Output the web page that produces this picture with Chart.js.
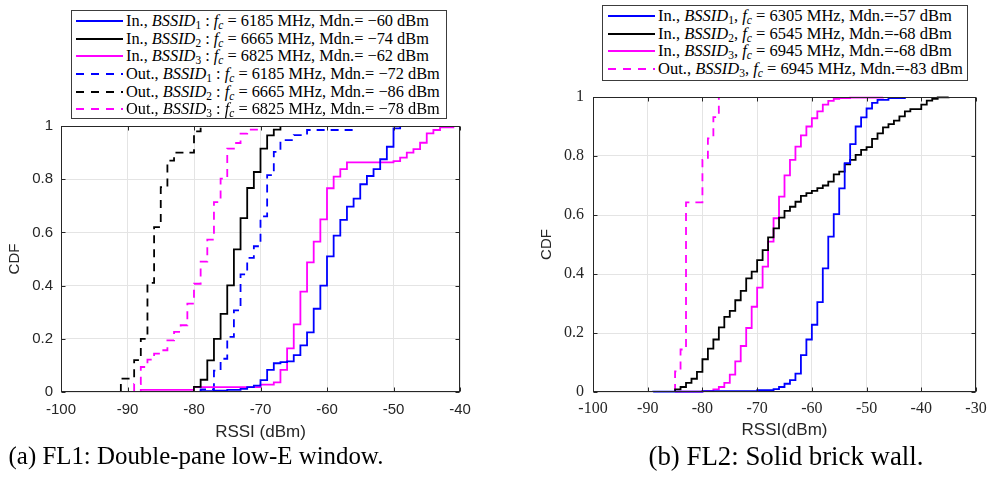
<!DOCTYPE html>
<html>
<head>
<meta charset="utf-8">
<script src="https://cdn.jsdelivr.net/npm/chart.js@4.4.1/dist/chart.umd.min.js"></script>
<style>
  body { margin: 0; background: #fff; }
  #page { position: relative; width: 987px; height: 489px; overflow: hidden; }
  canvas { position: absolute; }
  .legend {
    position: absolute; background: #fff; border: 1px solid #3c3c3c; box-sizing: border-box;
    font-family: "Liberation Serif", serif; font-size: 15.5px; color: #000; white-space: nowrap; z-index: 2;
  }
  .row { display: flex; align-items: center; height: 17.7px; }
  .row svg { flex: none; margin-right: 3px; }
  .legend sub { font-size: 0.7em; vertical-align: -0.3em; line-height: 0; }
  .caption {
    position: absolute; font-family: "Liberation Serif", serif; font-size: 24px; color: #000;
    white-space: nowrap; transform: translate(-50%, -50%);
  }
</style>
</head>
<body>
<div id="page">
  <div class="legend" id="legend1" style="left:71px;top:10px;width:376px;height:109px;padding:1px 0 0 4px"></div>
  <div class="legend" id="legend2" style="left:602px;top:5px;width:366px;height:76px;padding:1px 0 0 5px"></div>
  <canvas id="chart1" width="480" height="330" style="left:0;top:115px"></canvas>
  <canvas id="chart2" width="487" height="360" style="left:500px;top:85px"></canvas>
  <div class="caption" id="cap1" style="left:196px;top:456px">(a) FL1: Double-pane low-E window.</div>
  <div class="caption" id="cap2" style="left:786px;top:456px">(b) FL2: Solid brick wall.</div>
</div>
<script>
/* globals Chart:false */
const yTicks = [0, 0.2, 0.4, 0.6, 0.8, 1];

// FL1 - double-pane low-E window
const fl1Labels = [
  "In., <i>BSSID</i><sub>1</sub> : <i>f</i><sub><i>c</i></sub> = 6185 MHz, Mdn.= \u221260 dBm",
  "In., <i>BSSID</i><sub>2</sub> : <i>f</i><sub><i>c</i></sub> = 6665 MHz, Mdn.= \u221274 dBm",
  "In., <i>BSSID</i><sub>3</sub> : <i>f</i><sub><i>c</i></sub> = 6825 MHz, Mdn.= \u221262 dBm",
  "Out., <i>BSSID</i><sub>1</sub> : <i>f</i><sub><i>c</i></sub> = 6185 MHz, Mdn.= \u221272 dBm",
  "Out., <i>BSSID</i><sub>2</sub> : <i>f</i><sub><i>c</i></sub> = 6665 MHz, Mdn.= \u221286 dBm",
  "Out., <i>BSSID</i><sub>3</sub> : <i>f</i><sub><i>c</i></sub> = 6825 MHz, Mdn.= \u221278 dBm",
];
const fl1XTicks = [-100, -90, -80, -70, -60, -50, -40];

const fl1InB1Rssi = [-79, -79, -77, -75, -73, -72, -71, -70, -69, -68, -67, -66, -65, -64, -63, -62, -61, -60, -59, -58, -57, -56, -55, -54, -53, -52, -51, -50, -49];
const fl1InB1Cdf = [0, 0.003, 0.005, 0.008, 0.012, 0.018, 0.024, 0.045, 0.083, 0.108, 0.112, 0.115, 0.139, 0.175, 0.224, 0.313, 0.4, 0.51, 0.588, 0.647, 0.697, 0.727, 0.781, 0.812, 0.838, 0.875, 0.922, 0.991, 1];

const fl1InB2Rssi = [-80, -80, -79, -78, -77, -76, -75, -74, -73, -72, -71, -70, -69, -68, -67];
const fl1InB2Cdf = [0, 0.019, 0.046, 0.119, 0.2, 0.294, 0.401, 0.536, 0.654, 0.767, 0.827, 0.915, 0.965, 0.986, 1];

const fl1InB3Rssi = [-88, -88, -80, -70, -68, -67, -66, -65, -64, -63, -62, -61, -60, -59, -58, -57, -50, -49, -48, -47, -46, -45, -44, -43, -41];
const fl1InB3Cdf = [0, 0.008, 0.018, 0.028, 0.036, 0.083, 0.164, 0.254, 0.377, 0.487, 0.565, 0.649, 0.766, 0.81, 0.838, 0.863, 0.868, 0.881, 0.9, 0.913, 0.937, 0.972, 0.985, 0.995, 1];

const fl1OutB1Rssi = [-79, -79, -77, -76, -75, -74, -73, -72, -71, -70, -69, -68, -67, -65, -63, -56];
const fl1OutB1Cdf = [0, 0.01, 0.08, 0.125, 0.207, 0.307, 0.442, 0.504, 0.548, 0.66, 0.815, 0.903, 0.947, 0.966, 0.985, 1];

const fl1OutB2Rssi = [-91, -91, -89, -88, -87, -86, -85, -84, -83, -80, -79];
const fl1OutB2Cdf = [0, 0.05, 0.12, 0.2, 0.41, 0.62, 0.77, 0.87, 0.9, 0.98, 1];

const fl1OutB3Rssi = [-89, -89, -88, -87, -86, -85, -84, -83, -82, -81, -80, -79, -78, -77, -76, -75, -74, -73, -72, -70];
const fl1OutB3Cdf = [0, 0.03, 0.094, 0.122, 0.144, 0.157, 0.194, 0.226, 0.251, 0.332, 0.407, 0.49, 0.573, 0.714, 0.802, 0.915, 0.936, 0.971, 0.986, 1];

// FL2 - solid brick wall
const fl2Labels = [
  "In., <i>BSSID</i><sub>1</sub>, <i>f</i><sub><i>c</i></sub> = 6305 MHz, Mdn.=-57 dBm",
  "In., <i>BSSID</i><sub>2</sub>, <i>f</i><sub><i>c</i></sub> = 6545 MHz, Mdn.=-68 dBm",
  "In., <i>BSSID</i><sub>3</sub>, <i>f</i><sub><i>c</i></sub> = 6945 MHz, Mdn.=-68 dBm",
  "Out., <i>BSSID</i><sub>3</sub>, <i>f</i><sub><i>c</i></sub> = 6945 MHz, Mdn.=-83 dBm",
];
const fl2XTicks = [-100, -90, -80, -70, -60, -50, -40, -30];

const fl2InB1Rssi = [-89, -89, -80, -70, -67, -66, -65, -64, -63, -62, -61, -60, -59, -58, -57, -56, -55, -54, -53, -52, -51, -50, -49, -48, -46, -43];
const fl2InB1Cdf = [0, 0.001, 0.003, 0.006, 0.01, 0.017, 0.028, 0.04, 0.062, 0.125, 0.178, 0.228, 0.305, 0.419, 0.527, 0.603, 0.69, 0.776, 0.84, 0.9, 0.931, 0.961, 0.98, 0.99, 0.996, 1];

const fl2InB2Rssi = [-85, -85, -84, -83, -82, -81, -80, -79, -78, -77, -76, -75, -74, -73, -72, -71, -70, -69, -68, -67, -66, -65, -64, -63, -62, -61, -60, -59, -58, -57, -56, -55, -54, -53, -52, -51, -50, -49, -48, -47, -46, -45, -44, -43, -42, -40, -39, -38, -37, -35];
const fl2InB2Cdf = [0, 0.009, 0.017, 0.031, 0.045, 0.068, 0.111, 0.147, 0.178, 0.219, 0.255, 0.275, 0.311, 0.343, 0.385, 0.408, 0.447, 0.481, 0.524, 0.555, 0.591, 0.614, 0.628, 0.645, 0.665, 0.674, 0.682, 0.691, 0.7, 0.713, 0.738, 0.747, 0.772, 0.787, 0.804, 0.821, 0.83, 0.858, 0.877, 0.897, 0.908, 0.92, 0.934, 0.951, 0.959, 0.974, 0.988, 0.994, 0.999, 1];

const fl2InB3Rssi = [-85, -85, -80, -78, -77, -76, -75, -74, -73, -72, -71, -70, -69, -68, -67, -66, -65, -64, -63, -62, -61, -60, -59, -58, -57, -56, -55, -53, -47];
const fl2InB3Cdf = [0, 0.001, 0.003, 0.009, 0.017, 0.031, 0.059, 0.104, 0.156, 0.217, 0.289, 0.354, 0.425, 0.51, 0.589, 0.662, 0.734, 0.787, 0.832, 0.87, 0.9, 0.928, 0.951, 0.974, 0.987, 0.994, 0.996, 0.998, 1];

const fl2OutB3Rssi = [-85, -85, -84, -83, -80, -79, -78, -77];
const fl2OutB3Cdf = [0, 0.07, 0.144, 0.643, 0.787, 0.86, 0.932, 1];

const BLUE = "#0000ff";
const BLACK = "#000000";
const MAGENTA = "#ff00ff";
const AXIS = "#262626";
const DASH = [8, 6];
const SANS = "'Liberation Sans', Arial, sans-serif";
const SERIF = "'Liberation Serif', 'Times New Roman', serif";

function series(label, rssi, cdf, color, dashed) {
  return {
    label: label.replace(/<[^>]+>/g, ""),
    htmlLabel: label,
    data: rssi.map((x, i) => ({ x: x, y: cdf[i] })),
    borderColor: color,
    backgroundColor: color,
    borderWidth: 1.8,
    borderDash: dashed ? DASH : [],
    stepped: true,
    pointRadius: 0,
    fill: false,
    clip: false,
  };
}

// box round the axes plus inward tick marks, like matlab
const framePlugin = {
  id: "frame",
  afterDraw(chart) {
    const { ctx, chartArea: a, scales } = chart;
    const l = Math.round(a.left) + 0.5, r = Math.round(a.right) - 0.5;
    const t = Math.round(a.top) + 0.5, b = Math.round(a.bottom) - 0.5;
    ctx.save();
    ctx.strokeStyle = AXIS;
    ctx.lineWidth = 1;
    ctx.setLineDash([]);
    ctx.strokeRect(l, t, r - l, b - t);
    ctx.beginPath();
    scales.x.ticks.forEach((tk) => {
      const px = Math.round(scales.x.getPixelForValue(tk.value)) + 0.5;
      ctx.moveTo(px, b); ctx.lineTo(px, b - 4);
      ctx.moveTo(px, t); ctx.lineTo(px, t + 4);
    });
    scales.y.ticks.forEach((tk) => {
      const py = Math.round(scales.y.getPixelForValue(tk.value)) + 0.5;
      ctx.moveTo(l, py); ctx.lineTo(l + 4, py);
      ctx.moveTo(r, py); ctx.lineTo(r - 4, py);
    });
    ctx.stroke();
    ctx.restore();
  },
};

function makeChart(id, datasets, xTicks, opts) {
  const ctx = document.getElementById(id).getContext("2d");
  return new Chart(ctx, {
    type: "line",
    data: { datasets: datasets },
    plugins: [framePlugin],
    options: {
      responsive: false,
      animation: false,
      events: [],
      layout: { padding: opts.padding },
      plugins: { legend: { display: false }, tooltip: { enabled: false } },
      scales: {
        x: {
          type: "linear",
          min: xTicks[0],
          max: xTicks[xTicks.length - 1],
          afterBuildTicks: (s) => { s.ticks = xTicks.map((v) => ({ value: v })); },
          afterFit: (s) => { s.height = 53; s.paddingLeft = 0; s.paddingRight = 0; },
          grid: { color: "#e4e4e4", drawTicks: false },
          border: { display: false },
          ticks: { color: AXIS, font: opts.tickFont, padding: opts.xPad, maxRotation: 0, callback: (v) => String(v) },
          title: { display: true, text: opts.xTitle, color: AXIS, font: { family: SANS, size: 17 }, padding: { top: 0, bottom: opts.xTitlePad } },
        },
        y: {
          type: "linear",
          min: 0,
          max: 1,
          afterBuildTicks: (s) => { s.ticks = yTicks.map((v) => ({ value: v })); },
          afterFit: (s) => { s.width = 55; s.paddingTop = 0; s.paddingBottom = 0; },
          grid: { color: "#e4e4e4", drawTicks: false },
          border: { display: false },
          ticks: { color: AXIS, font: opts.tickFont, padding: opts.yPad, callback: (v) => String(Math.round(v * 10) / 10) },
          title: { display: true, text: "CDF", color: AXIS, font: { family: SANS, size: 15 }, padding: { top: 0, bottom: 0 } },
        },
      },
    },
  });
}

function buildLegend(id, datasets) {
  const box = document.getElementById(id);
  datasets.forEach((d) => {
    const row = document.createElement("div");
    row.className = "row";
    const dash = d.borderDash.length ? ' stroke-dasharray="8 7"' : "";
    row.innerHTML =
      '<svg width="47" height="10"><line x1="0" y1="5" x2="47" y2="5" stroke="' + d.borderColor +
      '" stroke-width="1.8"' + dash + "/></svg>" + '<span class="txt">' + d.htmlLabel + "</span>";
    box.appendChild(row);
  });
}

// scale the font so that the widest text matches the original width
function fitFont(el, spans, target) {
  let w = 0;
  spans.forEach((s) => { w = Math.max(w, s.getBoundingClientRect().width); });
  const fs = parseFloat(getComputedStyle(el).fontSize);
  el.style.fontSize = (fs * target / w).toFixed(2) + "px";
}

document.addEventListener("DOMContentLoaded", () => {
  const fl1Sets = [
    series(fl1Labels[0], fl1InB1Rssi, fl1InB1Cdf, BLUE, false),
    series(fl1Labels[1], fl1InB2Rssi, fl1InB2Cdf, BLACK, false),
    series(fl1Labels[2], fl1InB3Rssi, fl1InB3Cdf, MAGENTA, false),
    series(fl1Labels[3], fl1OutB1Rssi, fl1OutB1Cdf, BLUE, true),
    series(fl1Labels[4], fl1OutB2Rssi, fl1OutB2Cdf, BLACK, true),
    series(fl1Labels[5], fl1OutB3Rssi, fl1OutB3Cdf, MAGENTA, true),
  ];
  const fl2Sets = [
    series(fl2Labels[0], fl2InB1Rssi, fl2InB1Cdf, BLUE, false),
    series(fl2Labels[1], fl2InB2Rssi, fl2InB2Cdf, BLACK, false),
    series(fl2Labels[2], fl2InB3Rssi, fl2InB3Cdf, MAGENTA, false),
    series(fl2Labels[3], fl2OutB3Rssi, fl2OutB3Cdf, MAGENTA, true),
  ];

  makeChart("chart1", fl1Sets, fl1XTicks, {
    padding: { left: 6, right: 20, top: 11, bottom: 0 },
    tickFont: { family: SANS, size: 15 },
    xPad: 9, yPad: 8, xTitle: "RSSI (dBm)", xTitlePad: 2,
  });
  makeChart("chart2", fl2Sets, fl2XTicks, {
    padding: { left: 38, right: 11, top: 12, bottom: 0 },
    tickFont: { family: SERIF, size: 16 },
    xPad: 7, yPad: 9, xTitle: "RSSI(dBm)", xTitlePad: 4,
  });

  buildLegend("legend1", fl1Sets);
  buildLegend("legend2", fl2Sets);
  const leg1 = document.getElementById("legend1");
  const leg2 = document.getElementById("legend2");
  fitFont(leg1, leg1.querySelectorAll(".txt"), 314);
  fitFont(leg2, leg2.querySelectorAll(".txt"), 305);
  const cap1 = document.getElementById("cap1");
  const cap2 = document.getElementById("cap2");
  fitFont(cap1, [cap1], 375);
  fitFont(cap2, [cap2], 275);
});
</script>
</body>
</html>
